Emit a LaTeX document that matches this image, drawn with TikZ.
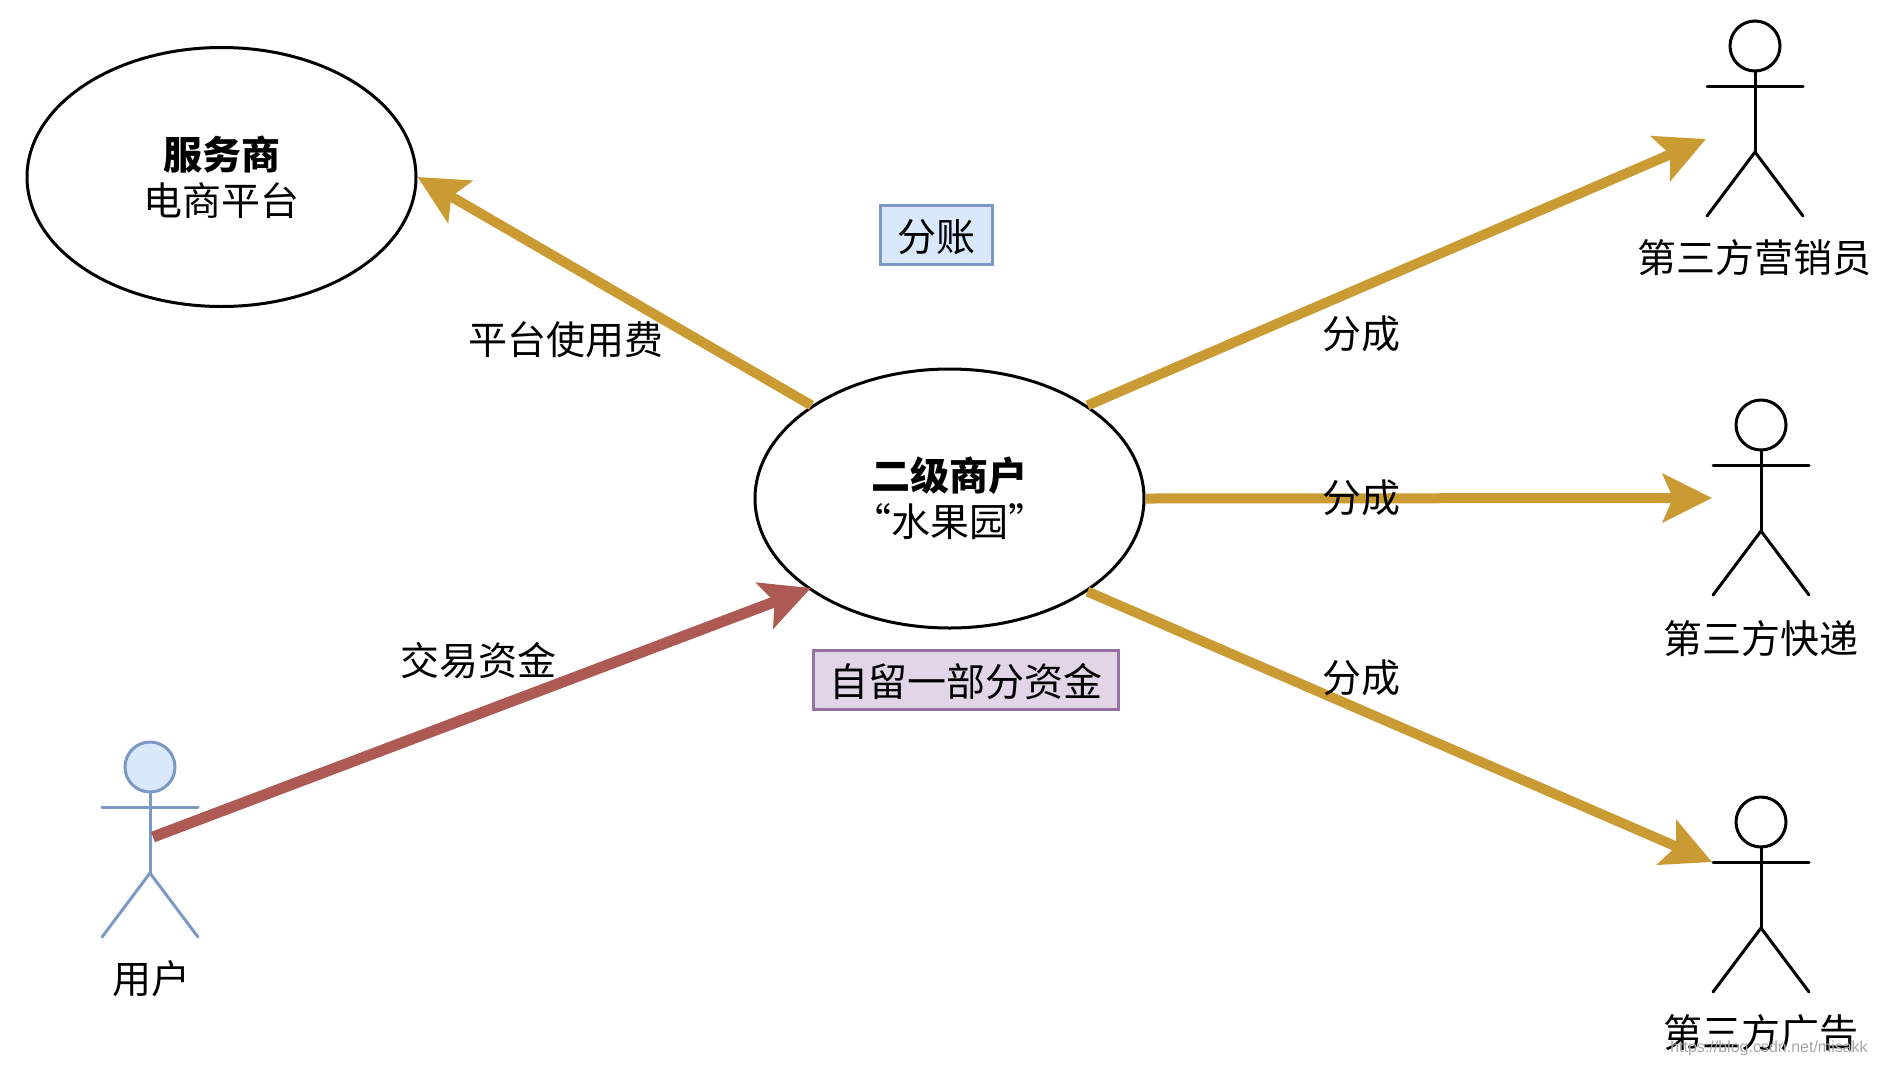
\documentclass[tikz,border=0pt]{standalone}
\usepackage{fontspec}
\usetikzlibrary{shapes.geometric,arrows.meta}
\setmainfont{Noto Sans CJK SC}
\newfontfamily\markfont{Liberation Sans}
\definecolor{goldline}{RGB}{203,155,51}
\definecolor{redline}{RGB}{174,90,84}
\definecolor{bluefill}{HTML}{DAE8FC}
\definecolor{blueline}{RGB}{124,152,196}
\definecolor{purplefill}{HTML}{E1D5E7}
\definecolor{purpleline}{HTML}{9673A6}
\tikzset{
  txt/.style={font=\fontsize{39}{46}\selectfont,inner sep=0pt},
  oval/.style={ellipse,draw=black,fill=white,line width=3pt,minimum width=389pt,minimum height=259pt,inner sep=0pt,align=center,font=\fontsize{39}{46}\selectfont},
  flow/.style={line width=#1,-{Stealth[length=49pt,width=48pt,inset=10pt]}},
  goldflow/.style={flow=10pt,draw=goldline,color=goldline},
  redflow/.style={flow=11pt,draw=redline,color=redline},
  tagbox/.style={rectangle,line width=3pt,minimum height=59pt},
  actorline/.style={line width=3pt,line cap=round}
}
\newcommand{\stickman}[4]{% x, y of head centre, line colour, head fill
  \draw[actorline,draw=#3,fill=#4] (#1,#2) circle[radius=25pt];
  \draw[actorline,draw=#3] (#1,#2+25) -- (#1,#2+106);
  \draw[actorline,draw=#3] (#1-48,#2+40) -- (#1+48,#2+40);
  \draw[actorline,draw=#3] (#1-48,#2+170) -- (#1,#2+106) -- (#1+48,#2+170);
}
\begin{document}
\begin{tikzpicture}[x=1pt,y=-1pt]
\useasboundingbox (0,0) rectangle (1882,1066);
\fill[white] (0,0) rectangle (1882,1066);
\stickman{1755}{46}{black}{white}
\stickman{1761}{425}{black}{white}
\stickman{1761}{822}{black}{white}
\stickman{150}{767}{blueline}{bluefill}
\coordinate (tipA) at (1706,139);
\coordinate (tipB) at (1712,498);
\coordinate (tipC) at (1712,862);
\coordinate (userHip) at (153,837);
\coordinate (tipM) at (811,588);
\node[oval] (svc) at (221.5,177) {\textbf{服务商}\\电商平台};
\node[oval] (merchant) at (949.5,498.5) {\textbf{二级商户}\\“水果园”};
\draw[goldflow] (merchant.146) -- (svc.east);
\draw[goldflow] (merchant.34.4) -- (tipA);
\draw[goldflow] (merchant.east) -- (tipB);
\draw[goldflow] (merchant.-34) -- (tipC);
\draw[redflow] (userHip) -- (tipM);
\node[txt] (feeLabel) at (566,340) {平台使用费};
\node[txt] (tradeLabel) at (478,661) {交易资金};
\node[txt] (shareA) at (1361,334) {分成};
\node[txt] (shareB) at (1361,498) {分成};
\node[txt] (shareC) at (1361,678) {分成};
\node[txt] (actorA) at (1754,258) {第三方营销员};
\node[txt] (actorB) at (1761,639) {第三方快递};
\node[txt] (actorC) at (1761,1033) {第三方广告};
\node[txt] (actorU) at (151,979) {用户};
\node[tagbox,draw=blueline,fill=bluefill,minimum width=112pt] (splitTag) at (936,235) {};
\node[txt] (splitText) at (936,237) {分账};
\node[tagbox,draw=purpleline,fill=purplefill,minimum width=305pt] (keepTag) at (965.5,680) {};
\node[txt] (keepText) at (965.5,682) {自留一部分资金};
\node[inner sep=0pt,text=black!35,font=\markfont\fontsize{16}{18}\selectfont] (stamp) at (1769,1048) {https://blog.csdn.net/misakk};
\end{tikzpicture}
\end{document}
